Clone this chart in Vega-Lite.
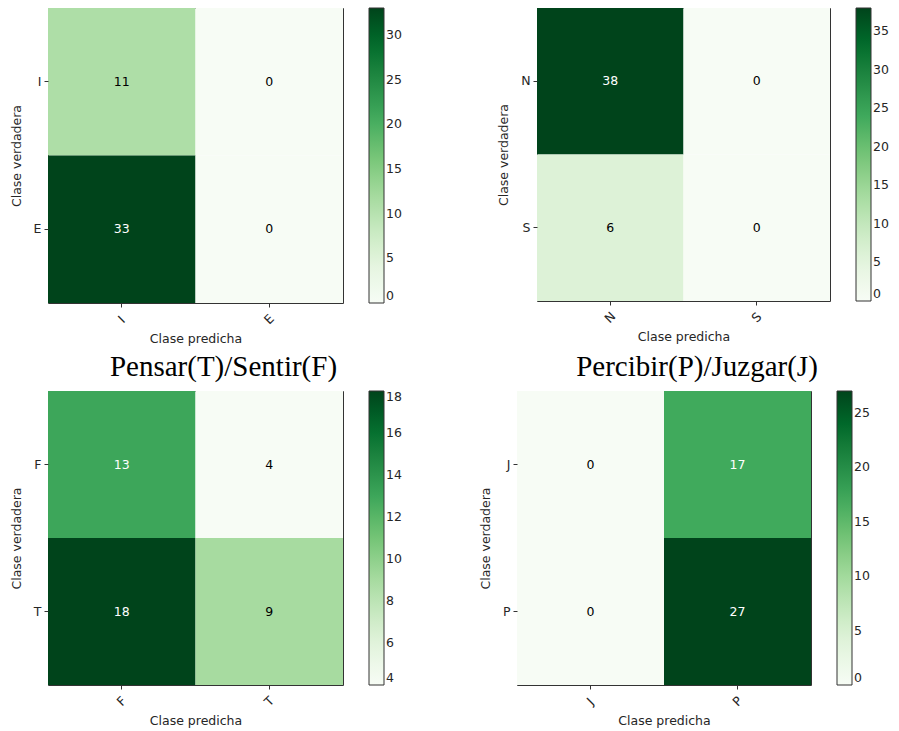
{
  "$schema": "https://vega.github.io/schema/vega-lite/v6.json",
  "padding": {"left": 9, "top": 7, "right": 0, "bottom": 0},
  "background": "white",
  "data": {"values": [
    {"panel": "A", "verdadera": "I", "predicha": "I", "n": 11},
    {"panel": "A", "verdadera": "I", "predicha": "E", "n": 0},
    {"panel": "A", "verdadera": "E", "predicha": "I", "n": 33},
    {"panel": "A", "verdadera": "E", "predicha": "E", "n": 0},
    {"panel": "B", "verdadera": "N", "predicha": "N", "n": 38},
    {"panel": "B", "verdadera": "N", "predicha": "S", "n": 0},
    {"panel": "B", "verdadera": "S", "predicha": "N", "n": 6},
    {"panel": "B", "verdadera": "S", "predicha": "S", "n": 0},
    {"panel": "C", "verdadera": "F", "predicha": "F", "n": 13},
    {"panel": "C", "verdadera": "F", "predicha": "T", "n": 4},
    {"panel": "C", "verdadera": "T", "predicha": "F", "n": 18},
    {"panel": "C", "verdadera": "T", "predicha": "T", "n": 9},
    {"panel": "D", "verdadera": "J", "predicha": "J", "n": 0},
    {"panel": "D", "verdadera": "J", "predicha": "P", "n": 17},
    {"panel": "D", "verdadera": "P", "predicha": "J", "n": 0},
    {"panel": "D", "verdadera": "P", "predicha": "P", "n": 27}
  ]},
  "spacing": 6,
  "resolve": {"scale": {"color": "independent", "x": "independent", "y": "independent"}, "legend": {"color": "independent"}},
  "vconcat": [
    {
      "bounds": "flush",
      "spacing": 194,
      "resolve": {"scale": {"color": "independent", "x": "independent", "y": "independent"}, "legend": {"color": "independent"}},
      "hconcat": [
        {
          "width": 295, "height": 295,
          "transform": [{"filter": "datum.panel === 'A'"}],
          "layer": [
            {"mark": {"type": "rect"},
             "encoding": {
               "x": {"field": "predicha", "type": "nominal", "sort": ["I", "E"], "title": "Clase predicha"},
               "y": {"field": "verdadera", "type": "nominal", "sort": ["I", "E"], "title": "Clase verdadera"},
               "color": {"field": "n", "type": "quantitative", "scale": {"domain": [0, 4.125, 8.25, 12.375, 16.5, 20.625, 24.75, 28.875, 33], "range": ["#f7fcf5", "#e5f5e0", "#c7e9c0", "#a1d99b", "#74c476", "#41ab5d", "#238b45", "#006d2c", "#00441b"]}, "legend": {"values": [0, 5, 10, 15, 20, 25, 30], "gradientLength": 295}}
             }},
            {"mark": {"type": "text", "font": "DejaVu Sans", "fontSize": 12.5},
             "encoding": {
               "x": {"field": "predicha", "type": "nominal", "sort": ["I", "E"]},
               "y": {"field": "verdadera", "type": "nominal", "sort": ["I", "E"]},
               "text": {"field": "n", "type": "quantitative"},
               "color": {"condition": {"test": "datum.n > 16.5", "value": "white"}, "value": "black"}
             }}
          ]
        },
        {
          "width": 293, "height": 293,
          "transform": [{"filter": "datum.panel === 'B'"}],
          "layer": [
            {"mark": {"type": "rect"},
             "encoding": {
               "x": {"field": "predicha", "type": "nominal", "sort": ["N", "S"], "title": "Clase predicha"},
               "y": {"field": "verdadera", "type": "nominal", "sort": ["N", "S"], "title": "Clase verdadera"},
               "color": {"field": "n", "type": "quantitative", "scale": {"domain": [0, 4.75, 9.5, 14.25, 19, 23.75, 28.5, 33.25, 38], "range": ["#f7fcf5", "#e5f5e0", "#c7e9c0", "#a1d99b", "#74c476", "#41ab5d", "#238b45", "#006d2c", "#00441b"]}, "legend": {"values": [0, 5, 10, 15, 20, 25, 30, 35], "gradientLength": 293}}
             }},
            {"mark": {"type": "text", "font": "DejaVu Sans", "fontSize": 12.5},
             "encoding": {
               "x": {"field": "predicha", "type": "nominal", "sort": ["N", "S"]},
               "y": {"field": "verdadera", "type": "nominal", "sort": ["N", "S"]},
               "text": {"field": "n", "type": "quantitative"},
               "color": {"condition": {"test": "datum.n > 19", "value": "white"}, "value": "black"}
             }}
          ]
        }
      ]
    },
    {
      "bounds": "flush",
      "spacing": 174,
      "resolve": {"scale": {"color": "independent", "x": "independent", "y": "independent"}, "legend": {"color": "independent"}},
      "hconcat": [
        {
          "width": 295, "height": 294,
          "title": {"text": "Pensar(T)/Sentir(F)", "dx": 28},
          "transform": [{"filter": "datum.panel === 'C'"}],
          "layer": [
            {"mark": {"type": "rect"},
             "encoding": {
               "x": {"field": "predicha", "type": "nominal", "sort": ["F", "T"], "title": "Clase predicha"},
               "y": {"field": "verdadera", "type": "nominal", "sort": ["F", "T"], "title": "Clase verdadera"},
               "color": {"field": "n", "type": "quantitative", "scale": {"domain": [4, 5.75, 7.5, 9.25, 11, 12.75, 14.5, 16.25, 18], "range": ["#f7fcf5", "#e5f5e0", "#c7e9c0", "#a1d99b", "#74c476", "#41ab5d", "#238b45", "#006d2c", "#00441b"]}, "legend": {"values": [4, 6, 8, 10, 12, 14, 16, 18], "gradientLength": 294}}
             }},
            {"mark": {"type": "text", "font": "DejaVu Sans", "fontSize": 12.5},
             "encoding": {
               "x": {"field": "predicha", "type": "nominal", "sort": ["F", "T"]},
               "y": {"field": "verdadera", "type": "nominal", "sort": ["F", "T"]},
               "text": {"field": "n", "type": "quantitative"},
               "color": {"condition": {"test": "datum.n > 11", "value": "white"}, "value": "black"}
             }}
          ]
        },
        {
          "width": 294, "height": 294,
          "title": {"text": "Percibir(P)/Juzgar(J)", "dx": 33},
          "transform": [{"filter": "datum.panel === 'D'"}],
          "layer": [
            {"mark": {"type": "rect"},
             "encoding": {
               "x": {"field": "predicha", "type": "nominal", "sort": ["J", "P"], "title": "Clase predicha"},
               "y": {"field": "verdadera", "type": "nominal", "sort": ["J", "P"], "title": "Clase verdadera"},
               "color": {"field": "n", "type": "quantitative", "scale": {"domain": [0, 3.375, 6.75, 10.125, 13.5, 16.875, 20.25, 23.625, 27], "range": ["#f7fcf5", "#e5f5e0", "#c7e9c0", "#a1d99b", "#74c476", "#41ab5d", "#238b45", "#006d2c", "#00441b"]}, "legend": {"values": [0, 5, 10, 15, 20, 25], "gradientLength": 294}}
             }},
            {"mark": {"type": "text", "font": "DejaVu Sans", "fontSize": 12.5},
             "encoding": {
               "x": {"field": "predicha", "type": "nominal", "sort": ["J", "P"]},
               "y": {"field": "verdadera", "type": "nominal", "sort": ["J", "P"]},
               "text": {"field": "n", "type": "quantitative"},
               "color": {"condition": {"test": "datum.n > 13.5", "value": "white"}, "value": "black"}
             }}
          ]
        }
      ]
    }
  ],
  "config": {
    "view": {"stroke": "#333333", "strokeWidth": 1},
    "title": {"font": "Liberation Serif", "fontSize": 29, "fontWeight": "normal", "color": "black", "baseline": "alphabetic", "offset": 9, "anchor": "middle"},
    "axis": {
      "domain": false, "grid": false,
      "labelFont": "DejaVu Sans", "labelFontSize": 12.5, "labelColor": "#262626",
      "titleFont": "DejaVu Sans", "titleFontSize": 12.5, "titleFontWeight": "normal", "titleColor": "#262626",
      "tickColor": "#333333", "tickSize": 4, "tickWidth": 1
    },
    "axisX": {"labelAngle": -45, "labelAlign": "center", "labelBaseline": "middle", "labelPadding": 12, "titlePadding": 6},
    "axisY": {"labelAngle": 0, "labelPadding": 3, "titlePadding": 10},
    "legend": {
      "orient": "right", "offset": 26, "title": null,
      "gradientThickness": 15, "gradientStrokeColor": "#333333", "gradientStrokeWidth": 1,
      "labelFont": "DejaVu Sans", "labelFontSize": 12.5, "labelColor": "#262626", "labelOffset": 9,
      "labelOverlap": false, "labelBaseline": "middle"
    }
  }
}
